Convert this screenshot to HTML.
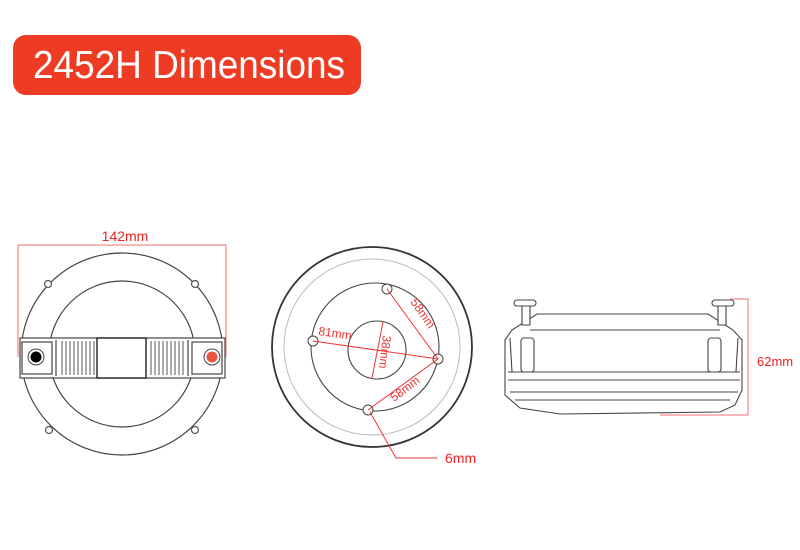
<!DOCTYPE html>
<html><head><style>html,body{margin:0;padding:0;background:#fff;width:800px;height:550px;overflow:hidden}</style></head>
<body>
<svg width="800" height="550" viewBox="0 0 800 550" xmlns="http://www.w3.org/2000/svg" font-family="Liberation Sans, sans-serif">
<rect x="13" y="35" width="348" height="60" rx="13" fill="#ee3b24"/>
<text x="33" y="78" font-size="39" fill="#fff" textLength="312" lengthAdjust="spacingAndGlyphs">2452H Dimensions</text>

<!-- Left view -->
<g fill="none" stroke="#444" stroke-width="1.2">
<circle cx="122" cy="354" r="101"/>
<circle cx="122" cy="354" r="73"/>
<g fill="#fff" stroke="#555"><circle cx="48" cy="284" r="3.5"/><circle cx="195" cy="284" r="3.5"/><circle cx="49" cy="430" r="3.5"/><circle cx="195" cy="430" r="3.5"/></g>
<rect x="20" y="338" width="205" height="40" fill="#fff"/>
<rect x="22" y="342" width="30" height="32" fill="#fff"/>
<rect x="192" y="342" width="30" height="32" fill="#fff"/>
<rect x="97" y="338" width="49" height="40" stroke="#222" stroke-width="1.4" fill="#fff"/>
<line x1="56" y1="340" x2="56" y2="376"/><line x1="188" y1="340" x2="188" y2="376"/>
</g>
<g stroke="#555" stroke-width="1" fill="none">
<path d="M62 341v34M66 341v34M70 341v34M74 341v34M78 341v34M82 341v34M86 341v34M90 341v34M94 341v34"/>
<path d="M151 341v34M155 341v34M159 341v34M163 341v34M167 341v34M171 341v34M175 341v34M179 341v34M183 341v34"/>
</g>
<circle cx="36" cy="357" r="8" fill="#fff" stroke="#444"/>
<circle cx="36" cy="357" r="5.5" fill="#000"/>
<circle cx="212" cy="357" r="8" fill="#fff" stroke="#444"/>
<circle cx="212" cy="357" r="5.5" fill="#e8553e"/>
<path d="M18 357V245H226V357" fill="none" stroke="#f07070" stroke-width="1"/>
<text x="125" y="241" font-size="14" fill="#e22" text-anchor="middle">142mm</text>

<!-- Middle view -->
<circle cx="372" cy="347" r="100" fill="none" stroke="#333" stroke-width="1.8"/>
<circle cx="372" cy="347" r="88" fill="none" stroke="#bbb" stroke-width="1"/>
<circle cx="375" cy="347" r="64" fill="none" stroke="#444" stroke-width="1.1"/>
<circle cx="377" cy="350" r="29" fill="none" stroke="#444" stroke-width="1.1"/>
<g fill="#fff" stroke="#444" stroke-width="1"><circle cx="387" cy="289" r="5"/><circle cx="313" cy="341" r="5"/><circle cx="438" cy="359" r="5"/><circle cx="368" cy="410" r="5"/></g>
<g stroke="#e33" stroke-width="1" fill="none">
<line x1="313" y1="341" x2="438" y2="359"/>
<line x1="387" y1="289" x2="438" y2="359"/>
<line x1="368" y1="410" x2="438" y2="359"/>
<line x1="383" y1="322" x2="372" y2="378"/>
<path d="M370 412L396 458H437"/>
</g>
<g font-size="12" fill="#e33">
<text x="318" y="335" transform="rotate(8 318 335)">81mm</text>
<text x="410" y="302" transform="rotate(55 410 302)">58mm</text>
<text x="394" y="402" transform="rotate(-37 394 402)">58mm</text>
<text x="383" y="335" transform="rotate(97 383 335)">38mm</text>
</g>
<text x="445" y="463" font-size="14" fill="#e22">6mm</text>

<!-- Right view -->
<g fill="#fff" stroke="#444" stroke-width="1.1">
<path d="M505 340L512 330L537 314L708 314L733 330L742 340L742 390L735 405L720 412L560 414L520 408L505 395Z"/>
<path d="M508 372L740 372M508 380L740 380M510 392L738 392M515 400L730 400"/>
<path d="M510 338L512 372M738 338L736 372M530 330H720"/>
<path d="M522 305v20h8v-20z"/><rect x="514" y="300" width="22" height="6" rx="3"/>
<path d="M718 305v20h8v-20z"/><rect x="712" y="300" width="22" height="6" rx="3"/>
<rect x="521" y="338" width="13" height="34" rx="3"/>
<rect x="708" y="338" width="13" height="34" rx="3"/>
</g>
<path d="M730 299H748V415H660" fill="none" stroke="#f07070" stroke-width="1"/>
<text x="757" y="366" font-size="13" fill="#e22">62mm</text>
</svg>
</body></html>
